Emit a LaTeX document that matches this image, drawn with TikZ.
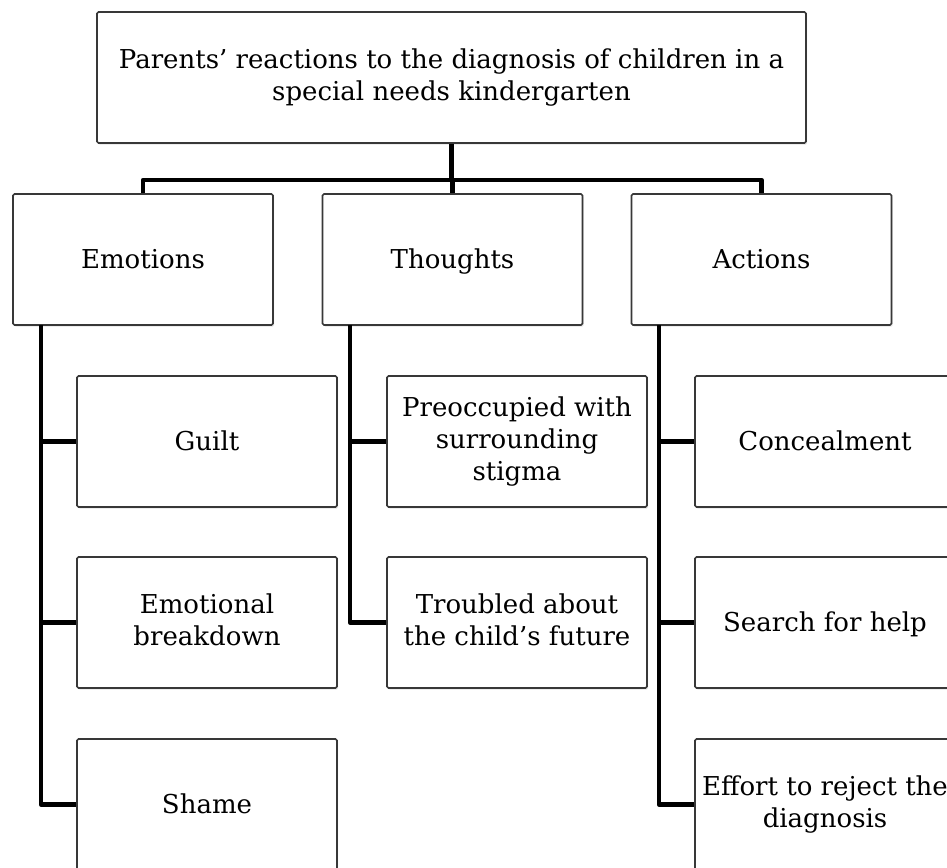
\documentclass[tikz,border=0pt]{standalone}
\usepackage{fontspec}
\setmainfont{DejaVu Serif}
\usetikzlibrary{shadows}
\newcommand{\topstrut}{\rule{0pt}{24pt}}
\newcommand{\botstrut}{\rule[-6.2pt]{0pt}{6.2pt}}
\begin{document}
\begin{tikzpicture}[x=1pt,y=-1pt,
  boxstyle/.style={draw=black!78, line width=1.7pt, rounded corners=1.5pt, fill=white,
    drop shadow={opacity=0.22, shadow xshift=1.2pt, shadow yshift=-1.6pt},
    align=center, inner sep=0pt, font=\fontsize{26}{32}\selectfont,
    execute at begin node=\topstrut, execute at end node=\botstrut},
  kidbox/.style={boxstyle, minimum width=260pt, minimum height=131pt},
  titlebox/.style={boxstyle, minimum width=709pt, minimum height=131pt},
  conn/.style={line width=4.5pt, line join=round, draw=black}]
\useasboundingbox (0,0) rectangle (947,867);
\clip (0,0) rectangle (947,867);

\node[titlebox] (top) at (451.5,77.5) {Parents’ reactions to the diagnosis of children in a\\special needs kindergarten};

\node[kidbox] (emo) at (143,259.5) {Emotions};
\node[kidbox] (tho) at (452.5,259.5) {Thoughts};
\node[kidbox] (act) at (761.5,259.5) {Actions};

\node[kidbox] (guilt) at (207,441.5) {Guilt};
\node[kidbox] (break) at (207,622.5) {Emotional\\breakdown};
\node[kidbox] (shame) at (207,804.5) {Shame};

\node[kidbox] (preo) at (517,441.5) {Preoccupied with\\surrounding\\stigma};
\node[kidbox] (troub) at (517,622.5) {Troubled about\\the child’s future};

\node[kidbox] (conc) at (825,441.5) {Concealment};
\node[kidbox] (help) at (825,622.5) {Search for help};
\node[kidbox] (rej) at (825,804.5) {Effort to reject the\\diagnosis};

% top level connectors
\coordinate (bar) at (0,180);
\draw[conn] (top.south) -- (top.south |- bar);
\draw[conn] (emo.north) -- (emo.north |- bar) -- (act.north |- bar) -- (act.north);
\draw[conn] (tho.north |- bar) -- (tho.north);

% Emotions branch
\coordinate (ev) at (41,325);
\draw[conn] (ev) |- (shame.west);
\draw[conn] (ev |- guilt.west) -- (guilt.west);
\draw[conn] (ev |- break.west) -- (break.west);

% Thoughts branch
\coordinate (tv) at (350,325);
\draw[conn] (tv) |- (troub.west);
\draw[conn] (tv |- preo.west) -- (preo.west);

% Actions branch
\coordinate (av) at (659,325);
\draw[conn] (av) |- (rej.west);
\draw[conn] (av |- conc.west) -- (conc.west);
\draw[conn] (av |- help.west) -- (help.west);
\end{tikzpicture}
\end{document}
